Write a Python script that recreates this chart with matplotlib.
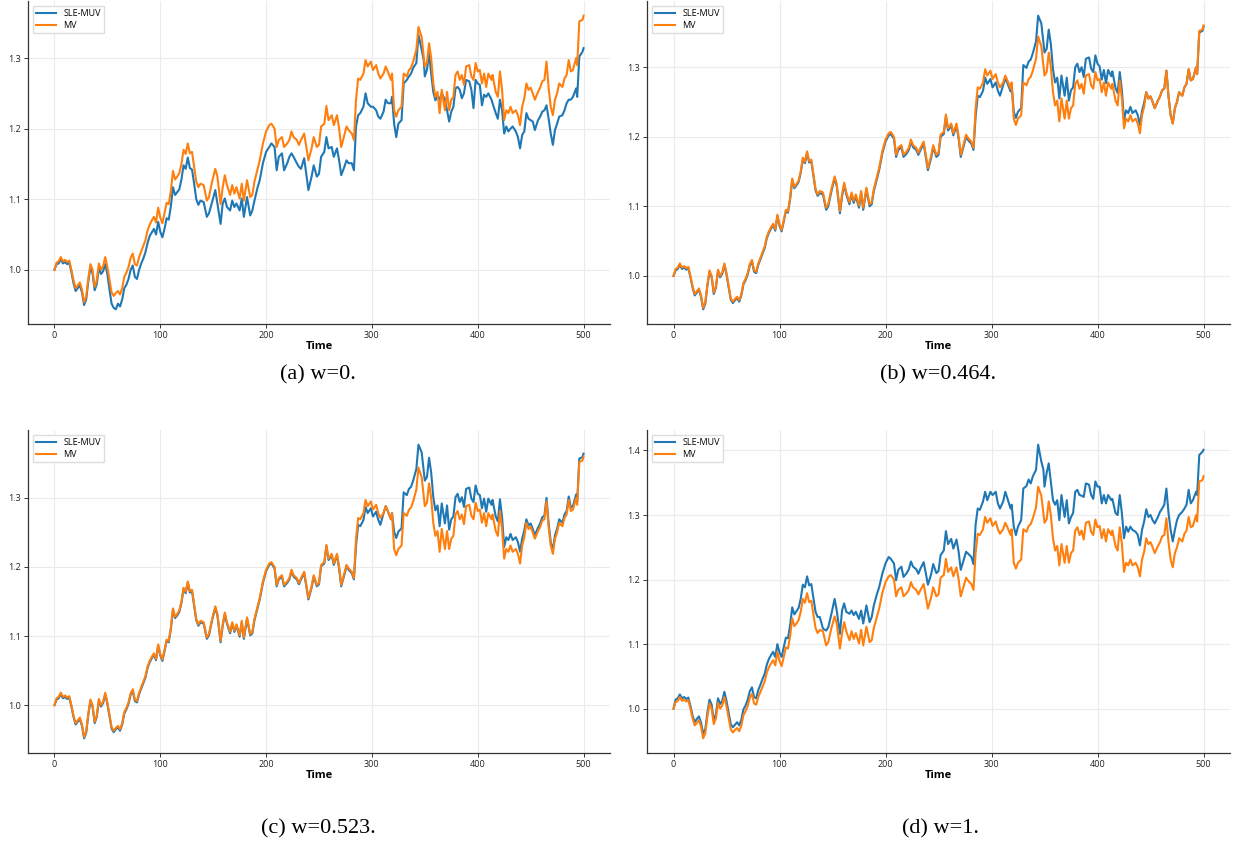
import matplotlib
matplotlib.use("Agg")
import matplotlib.pyplot as plt

# time steps at which the wealth paths were sampled
TIME = [
    0, 2, 4, 6, 8, 10, 12, 14, 16, 18, 20, 22, 24, 26, 28, 30, 32, 34, 36, 38,
    40, 42, 44, 46, 48, 50, 52, 54, 56, 58, 60, 62, 64, 66, 68, 70, 72, 74, 76, 78,
    80, 82, 84, 86, 88, 90, 92, 94, 96, 98, 100, 102, 104, 106, 108, 110, 112, 114, 116, 118,
    120, 122, 124, 126, 128, 130, 132, 134, 136,
    138, 141, 144, 146, 149, 152, 154, 157, 159, 161,
    163, 166, 168, 170, 172, 175, 177, 179, 182, 185,
    187, 189, 192, 194, 197, 200, 203, 205, 208, 210,
    212, 215, 217, 220, 222, 224, 226, 229, 231, 233,
    236, 238, 240, 243, 245, 248, 250, 252, 255, 257,
    259, 262, 264, 267, 269, 271, 274, 276, 278, 281,
    283, 285, 287, 289, 292, 294, 296, 299, 301, 304,
    306, 308, 311, 313, 315, 318, 319, 321, 323, 325,
    328, 330, 333, 335, 337, 339, 342, 344,
    347, 349, 350, 352, 354, 356, 358, 360, 362, 364,
    366, 369, 371, 373, 375, 377, 379, 381, 383, 385,
    387, 389, 392, 394, 396, 398, 400, 402, 404, 406,
    408, 410, 413, 414, 417, 419, 421, 423, 425, 427,
    429, 431, 433, 436, 438, 440, 442, 444, 446, 448,
    450, 452, 454, 457, 459, 461, 463, 465, 467, 469,
    471, 473, 475, 477, 480, 482, 484, 486, 488, 490,
    493, 494, 496, 499, 500,
]

# MV benchmark (same path in every panel)
MV = [
    1.000, 1.010, 1.012, 1.018, 1.012, 1.014, 1.011, 1.013, 1.000, 0.985,
    0.974, 0.978, 0.982, 0.972, 0.954, 0.962, 0.988, 1.008, 1.000, 0.976,
    0.985, 1.009, 1.000, 1.005, 1.018, 1.004, 0.986, 0.968, 0.963, 0.967,
    0.970, 0.965, 0.974, 0.990, 0.996, 1.004, 1.017, 1.023, 1.008, 1.006,
    1.018, 1.026, 1.034, 1.042, 1.056, 1.064, 1.070, 1.075, 1.067, 1.088,
    1.074, 1.066, 1.080, 1.095, 1.093, 1.112, 1.140, 1.128, 1.132, 1.137,
    1.150, 1.170, 1.164, 1.179, 1.165, 1.167, 1.146, 1.125, 1.117,
    1.122, 1.120, 1.098, 1.103, 1.125, 1.143, 1.132, 1.093, 1.117, 1.134,
    1.120, 1.106, 1.120, 1.108, 1.117, 1.101, 1.122, 1.098, 1.127, 1.103,
    1.106, 1.125, 1.143, 1.155, 1.179, 1.196, 1.205, 1.207, 1.200, 1.174,
    1.184, 1.188, 1.174, 1.179, 1.184, 1.196, 1.188, 1.184, 1.177, 1.184,
    1.193, 1.174, 1.155, 1.172, 1.188, 1.174, 1.177, 1.203, 1.207, 1.232,
    1.212, 1.219, 1.205, 1.219, 1.200, 1.174, 1.191, 1.203, 1.198, 1.193,
    1.184, 1.241, 1.271, 1.269, 1.278, 1.297, 1.288, 1.295, 1.283, 1.290,
    1.278, 1.271, 1.278, 1.288, 1.281, 1.269, 1.278, 1.226, 1.217, 1.226,
    1.231, 1.278, 1.274, 1.283, 1.286, 1.295, 1.312, 1.344,
    1.330, 1.302, 1.288, 1.293, 1.321, 1.300, 1.264, 1.245, 1.252, 1.222,
    1.255, 1.226, 1.252, 1.226, 1.241, 1.245, 1.276, 1.281, 1.269, 1.276,
    1.262, 1.288, 1.290, 1.274, 1.269, 1.293, 1.281, 1.283, 1.264, 1.278,
    1.259, 1.278, 1.269, 1.276, 1.252, 1.245, 1.281, 1.255, 1.212, 1.226,
    1.222, 1.231, 1.222, 1.226, 1.219, 1.205, 1.231, 1.243, 1.264, 1.255,
    1.258, 1.250, 1.241, 1.252, 1.258, 1.267, 1.269, 1.295, 1.258, 1.231,
    1.219, 1.241, 1.250, 1.264, 1.259, 1.271, 1.276, 1.297, 1.281, 1.283,
    1.300, 1.290, 1.352, 1.354, 1.360,
]

# SLE-MUV, w = 0
SLE_W0 = [
    1.000, 1.008, 1.009, 1.015, 1.009, 1.011, 1.008, 1.010, 0.997, 0.981,
    0.970, 0.974, 0.978, 0.968, 0.950, 0.958, 0.984, 1.003, 0.995, 0.971,
    0.980, 1.003, 0.994, 0.998, 1.008, 0.994, 0.972, 0.952, 0.946, 0.944,
    0.952, 0.948, 0.958, 0.974, 0.979, 0.987, 1.000, 1.006, 0.990, 0.987,
    1.000, 1.009, 1.016, 1.025, 1.038, 1.048, 1.053, 1.058, 1.050, 1.068,
    1.054, 1.046, 1.058, 1.073, 1.071, 1.090, 1.117, 1.106, 1.110, 1.114,
    1.128, 1.148, 1.143, 1.159, 1.144, 1.142, 1.122, 1.100, 1.092,
    1.098, 1.096, 1.075, 1.080, 1.096, 1.113, 1.094, 1.065, 1.094, 1.101,
    1.089, 1.084, 1.098, 1.089, 1.094, 1.084, 1.101, 1.075, 1.103, 1.077,
    1.084, 1.098, 1.117, 1.127, 1.151, 1.167, 1.174, 1.179, 1.174, 1.141,
    1.160, 1.165, 1.141, 1.151, 1.160, 1.165, 1.160, 1.151, 1.146, 1.143,
    1.158, 1.136, 1.113, 1.132, 1.148, 1.132, 1.136, 1.160, 1.167, 1.188,
    1.172, 1.174, 1.160, 1.172, 1.155, 1.134, 1.146, 1.155, 1.151, 1.151,
    1.141, 1.203, 1.219, 1.222, 1.231, 1.250, 1.236, 1.231, 1.231, 1.226,
    1.217, 1.214, 1.224, 1.241, 1.236, 1.236, 1.245, 1.207, 1.188, 1.207,
    1.212, 1.264, 1.269, 1.274, 1.278, 1.286, 1.293, 1.333,
    1.312, 1.297, 1.274, 1.283, 1.307, 1.278, 1.252, 1.240, 1.247, 1.241,
    1.250, 1.241, 1.226, 1.210, 1.224, 1.231, 1.257, 1.259, 1.255, 1.243,
    1.250, 1.269, 1.267, 1.255, 1.229, 1.269, 1.264, 1.262, 1.233, 1.248,
    1.245, 1.250, 1.241, 1.236, 1.222, 1.214, 1.241, 1.226, 1.193, 1.203,
    1.196, 1.200, 1.203, 1.196, 1.188, 1.172, 1.191, 1.196, 1.222, 1.214,
    1.212, 1.210, 1.198, 1.212, 1.217, 1.224, 1.226, 1.233, 1.214, 1.193,
    1.177, 1.198, 1.207, 1.217, 1.219, 1.226, 1.236, 1.241, 1.241, 1.245,
    1.257, 1.245, 1.302, 1.309, 1.314,
]

# SLE-MUV, w = 0.464
SLE_W0464 = [
    1.000, 1.008, 1.010, 1.016, 1.010, 1.012, 1.009, 1.011, 0.998, 0.983,
    0.972, 0.976, 0.980, 0.970, 0.952, 0.960, 0.986, 1.006, 0.998, 0.974,
    0.983, 1.007, 0.998, 1.003, 1.016, 1.002, 0.984, 0.966, 0.961, 0.965,
    0.968, 0.963, 0.972, 0.988, 0.994, 1.002, 1.015, 1.021, 1.006, 1.004,
    1.016, 1.024, 1.032, 1.040, 1.054, 1.062, 1.068, 1.073, 1.065, 1.086,
    1.072, 1.064, 1.078, 1.093, 1.091, 1.110, 1.138, 1.126, 1.130, 1.135,
    1.148, 1.168, 1.162, 1.177, 1.163, 1.165, 1.144, 1.123, 1.115,
    1.119, 1.117, 1.095, 1.100, 1.122, 1.140, 1.129, 1.090, 1.114, 1.131,
    1.117, 1.103, 1.117, 1.105, 1.114, 1.098, 1.119, 1.095, 1.124, 1.100,
    1.103, 1.122, 1.140, 1.152, 1.176, 1.193, 1.202, 1.204, 1.197, 1.171,
    1.181, 1.185, 1.171, 1.176, 1.181, 1.193, 1.185, 1.181, 1.174, 1.181,
    1.190, 1.171, 1.152, 1.169, 1.185, 1.171, 1.174, 1.200, 1.204, 1.229,
    1.209, 1.216, 1.202, 1.216, 1.197, 1.171, 1.188, 1.200, 1.195, 1.190,
    1.181, 1.229, 1.259, 1.257, 1.266, 1.285, 1.276, 1.283, 1.271, 1.278,
    1.266, 1.259, 1.274, 1.284, 1.277, 1.265, 1.274, 1.236, 1.227, 1.236,
    1.241, 1.303, 1.299, 1.308, 1.311, 1.320, 1.337, 1.374,
    1.363, 1.335, 1.321, 1.326, 1.354, 1.333, 1.297, 1.278, 1.285, 1.255,
    1.288, 1.259, 1.285, 1.252, 1.267, 1.271, 1.300, 1.305, 1.293, 1.300,
    1.286, 1.312, 1.314, 1.298, 1.293, 1.317, 1.305, 1.301, 1.282, 1.296,
    1.277, 1.296, 1.287, 1.294, 1.270, 1.263, 1.293, 1.267, 1.224, 1.238,
    1.234, 1.243, 1.234, 1.238, 1.231, 1.217, 1.237, 1.249, 1.264, 1.255,
    1.258, 1.250, 1.241, 1.252, 1.258, 1.267, 1.269, 1.295, 1.258, 1.231,
    1.219, 1.241, 1.250, 1.264, 1.259, 1.271, 1.276, 1.297, 1.281, 1.283,
    1.300, 1.290, 1.350, 1.352, 1.358,
]

# SLE-MUV, w = 0.523
SLE_W0523 = [
    1.000, 1.008, 1.010, 1.016, 1.010, 1.012, 1.009, 1.011, 0.998, 0.983,
    0.972, 0.976, 0.980, 0.970, 0.952, 0.960, 0.986, 1.006, 0.998, 0.974,
    0.983, 1.007, 0.998, 1.003, 1.016, 1.002, 0.984, 0.966, 0.961, 0.965,
    0.968, 0.963, 0.972, 0.988, 0.994, 1.002, 1.015, 1.021, 1.006, 1.004,
    1.016, 1.024, 1.032, 1.040, 1.054, 1.062, 1.068, 1.073, 1.065, 1.086,
    1.072, 1.064, 1.078, 1.093, 1.091, 1.110, 1.138, 1.126, 1.130, 1.135,
    1.148, 1.168, 1.162, 1.177, 1.163, 1.165, 1.144, 1.123, 1.115,
    1.120, 1.118, 1.096, 1.101, 1.123, 1.141, 1.130, 1.091, 1.115, 1.132,
    1.118, 1.104, 1.118, 1.106, 1.115, 1.099, 1.120, 1.096, 1.125, 1.101,
    1.104, 1.123, 1.141, 1.153, 1.177, 1.194, 1.203, 1.205, 1.198, 1.172,
    1.182, 1.186, 1.172, 1.177, 1.182, 1.194, 1.186, 1.182, 1.175, 1.182,
    1.191, 1.172, 1.153, 1.170, 1.186, 1.172, 1.175, 1.201, 1.205, 1.230,
    1.210, 1.217, 1.203, 1.217, 1.198, 1.172, 1.189, 1.201, 1.196, 1.191,
    1.182, 1.231, 1.261, 1.259, 1.268, 1.287, 1.278, 1.285, 1.273, 1.280,
    1.268, 1.261, 1.278, 1.288, 1.281, 1.269, 1.278, 1.251, 1.242, 1.251,
    1.256, 1.308, 1.304, 1.313, 1.316, 1.325, 1.342, 1.377,
    1.366, 1.339, 1.325, 1.330, 1.358, 1.337, 1.301, 1.282, 1.289, 1.259,
    1.292, 1.263, 1.289, 1.254, 1.269, 1.273, 1.301, 1.306, 1.294, 1.301,
    1.287, 1.313, 1.315, 1.299, 1.294, 1.318, 1.306, 1.304, 1.285, 1.299,
    1.280, 1.299, 1.290, 1.297, 1.273, 1.266, 1.298, 1.272, 1.229, 1.243,
    1.239, 1.248, 1.239, 1.243, 1.236, 1.222, 1.241, 1.253, 1.269, 1.260,
    1.263, 1.255, 1.246, 1.257, 1.263, 1.272, 1.274, 1.300, 1.263, 1.236,
    1.224, 1.246, 1.255, 1.269, 1.264, 1.276, 1.281, 1.302, 1.286, 1.288,
    1.305, 1.295, 1.357, 1.359, 1.364,
]

# SLE-MUV, w = 1
SLE_W1 = [
    1.000, 1.014, 1.016, 1.022, 1.016, 1.018, 1.015, 1.017, 1.004, 0.989,
    0.979, 0.984, 0.988, 0.978, 0.961, 0.968, 0.994, 1.014, 1.006, 0.982,
    0.991, 1.016, 1.007, 1.012, 1.026, 1.012, 0.994, 0.976, 0.971, 0.975,
    0.979, 0.974, 0.983, 0.999, 1.005, 1.014, 1.027, 1.033, 1.018, 1.016,
    1.029, 1.037, 1.046, 1.054, 1.068, 1.077, 1.083, 1.088, 1.080, 1.100,
    1.087, 1.080, 1.095, 1.110, 1.109, 1.129, 1.157, 1.146, 1.151, 1.156,
    1.170, 1.192, 1.188, 1.205, 1.191, 1.193, 1.171, 1.150, 1.142,
    1.142, 1.124, 1.121, 1.126, 1.147, 1.170, 1.152, 1.116, 1.152, 1.163,
    1.150, 1.147, 1.152, 1.145, 1.150, 1.139, 1.152, 1.132, 1.160, 1.134,
    1.142, 1.160, 1.178, 1.188, 1.209, 1.225, 1.235, 1.232, 1.225, 1.199,
    1.215, 1.220, 1.204, 1.210, 1.216, 1.228, 1.220, 1.216, 1.209, 1.217,
    1.227, 1.210, 1.192, 1.208, 1.224, 1.210, 1.213, 1.238, 1.245, 1.275,
    1.255, 1.263, 1.248, 1.262, 1.243, 1.215, 1.232, 1.243, 1.240, 1.235,
    1.224, 1.285, 1.310, 1.308, 1.321, 1.336, 1.323, 1.336, 1.331, 1.336,
    1.318, 1.310, 1.321, 1.336, 1.326, 1.310, 1.316, 1.282, 1.269, 1.282,
    1.292, 1.341, 1.345, 1.355, 1.349, 1.360, 1.370, 1.409,
    1.383, 1.370, 1.344, 1.365, 1.380, 1.352, 1.323, 1.316, 1.323, 1.292,
    1.331, 1.297, 1.323, 1.287, 1.297, 1.303, 1.336, 1.339, 1.331, 1.330,
    1.328, 1.349, 1.347, 1.331, 1.325, 1.352, 1.344, 1.344, 1.318, 1.331,
    1.318, 1.331, 1.323, 1.325, 1.303, 1.300, 1.331, 1.303, 1.264, 1.282,
    1.274, 1.282, 1.277, 1.274, 1.269, 1.253, 1.277, 1.290, 1.309, 1.297,
    1.300, 1.292, 1.287, 1.297, 1.305, 1.310, 1.316, 1.341, 1.303, 1.277,
    1.259, 1.277, 1.292, 1.300, 1.305, 1.310, 1.316, 1.339, 1.318, 1.323,
    1.336, 1.331, 1.393, 1.398, 1.401,
]

CAPTIONS = ["(a) w=0.", "(b) w=0.464.", "(c) w=0.523.", "(d) w=1."]
SLE_PATHS = [SLE_W0, SLE_W0464, SLE_W0523, SLE_W1]

BLUE = "#1f77b4"
ORANGE = "#ff7f0e"

W, H = 1233, 847
fig = plt.figure(figsize=(W / 100, H / 100), dpi=100)

# axes boxes in pixels: left, top, right, bottom
boxes = [(28, 1, 610, 324), (647, 1, 1230, 324),
         (28, 430, 610, 753), (647, 430, 1230, 753)]
caption_pos = [(318, 375), (938, 375), (318, 829), (940, 829)]

for box, sle, cap, cpos in zip(boxes, SLE_PATHS, CAPTIONS, caption_pos):
    l, t, r, b = box
    ax = fig.add_axes([l / W, 1 - b / H, (r - l) / W, (b - t) / H])
    ax.plot(TIME, sle, color=BLUE, lw=1.5, label="SLE-MUV")
    ax.plot(TIME, MV, color=ORANGE, lw=1.5, label="MV")
    ax.grid(True, color="#ebebeb", lw=0.8)
    ax.set_axisbelow(True)
    for side in ["top", "right"]:
        ax.spines[side].set_visible(False)
    for side in ["left", "bottom"]:
        ax.spines[side].set_color("#333333")
        ax.spines[side].set_linewidth(0.9)
    ax.tick_params(labelsize=6.5, length=3, width=0.7, color="#333333",
                   labelcolor="#222222", pad=2)
    for lab in ax.get_xticklabels() + ax.get_yticklabels():
        lab.set_family("Open Sans")
    ax.set_xlabel("Time", fontsize=8, fontweight="bold", family="Open Sans",
                  labelpad=1)
    ax.legend(loc="upper left", prop={"family": "Open Sans", "size": 6.5},
              handlelength=2.2, borderpad=0.4, labelspacing=0.3,
              framealpha=1, edgecolor="#dddddd")
    fig.text(cpos[0] / W, 1 - cpos[1] / H, cap, family="Liberation Serif",
             fontsize=16, ha="center", va="center")

fig.savefig("out.png", dpi=100)
